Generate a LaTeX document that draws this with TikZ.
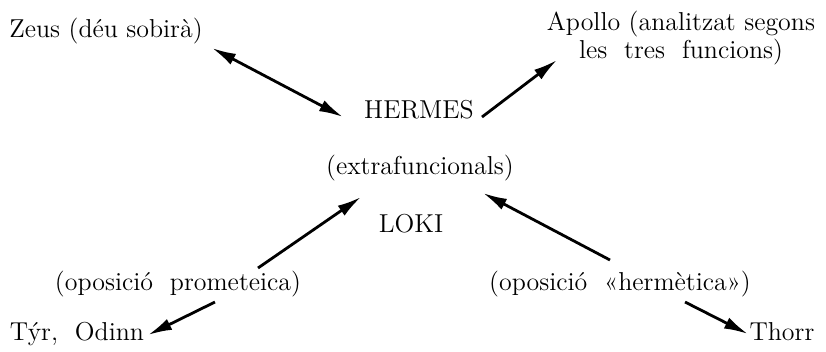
\documentclass[tikz,border=0pt]{standalone}
\usetikzlibrary{arrows.meta,calc}
\begin{document}
\begin{tikzpicture}
    [x=0.5bp,y=-0.5bp,
     lbl/.style={anchor=base,inner sep=0pt,font=\fontsize{13}{14}\selectfont},
     arr/.style={line width=1.4bp,-{Latex[length=12bp,width=6bp]}},
     both/.style={line width=1.4bp,{Latex[length=12bp,width=6bp]}-{Latex[length=12bp,width=6bp]}}]
    \useasboundingbox (0,0) rectangle (826,351);
    %names
    \node[lbl] (zeus) at (106,37) {Zeus (déu sobirà)};
    \node[lbl,align=center] (apollo) at (681,58) {Apollo (analitzat segons\\ les\ \ tres\ \ funcions)};
    \node[lbl] (hermes) at (419,118) {HERMES};
    \node[lbl] (extra) at (420,174) {(extrafuncionals)};
    \node[lbl] (loki) at (411,232) {LOKI};
    %oppositions
    \node[lbl] (prom) at (178,290) {(oposició\ \ prometeica)};
    \node[lbl] (herm) at (620,290) {(oposició\ \ «hermètica»)};
    \node[lbl] (tyr) at (77,340) {Týr,\ \ Odinn};
    \node[lbl] (thorr) at (782,340) {Thorr};
    %arrows
    \draw[both] ($(zeus.base)+(106,11)$) -- ($(hermes.base)+(-76,-1)$);
    \draw[arr] ($(hermes.base)+(63,-1)$) -- ($(apollo.base)+(-124,2)$);
    \draw[arr] ($(prom.base)+(80,-22)$) -- ($(extra.base)+(-59,23)$);
    \draw[arr] ($(prom.base)+(37,12)$) -- ($(tyr.base)+(71,-5)$);
    \draw[arr] ($(herm.base)+(-10,-30)$) -- ($(extra.base)+(63,19)$);
    \draw[arr] ($(herm.base)+(65,12)$) -- ($(thorr.base)+(-34,-6)$);
\end{tikzpicture}
\end{document}
